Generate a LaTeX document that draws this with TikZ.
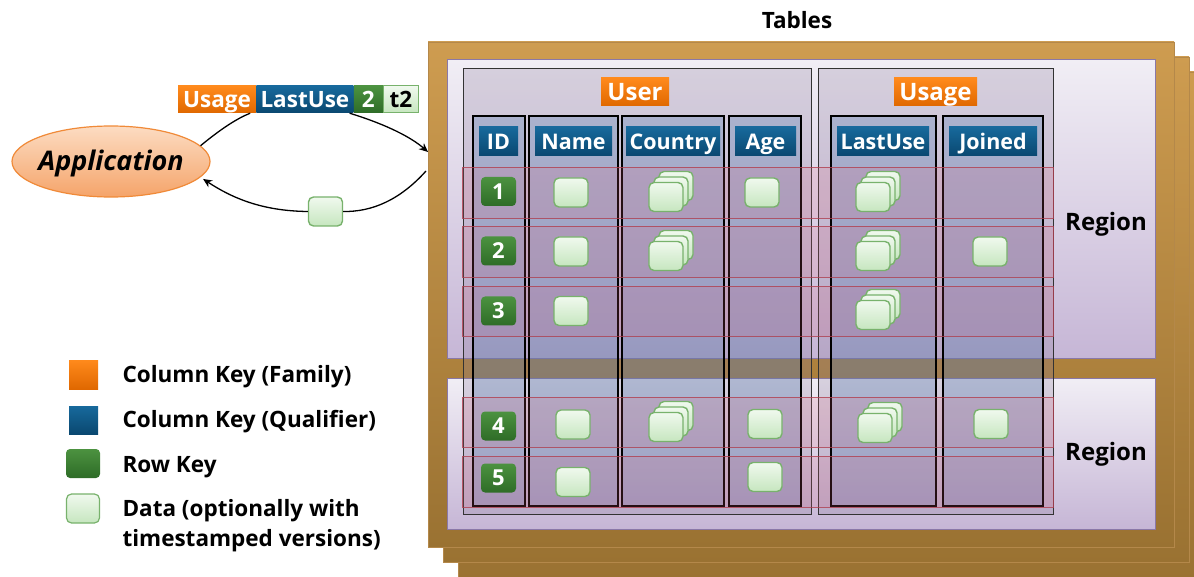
\documentclass[tikz,border=0pt]{standalone}
\usepackage{fontspec}
\setmainfont{Open Sans}
\usetikzlibrary{shapes.geometric,arrows.meta}

\definecolor{famtop}{HTML}{FF8A1C}
\definecolor{fambot}{HTML}{E06800}
\definecolor{qualtop}{HTML}{17699C}
\definecolor{qualbot}{HTML}{0A4870}
\definecolor{rowtop}{HTML}{4C9240}
\definecolor{rowbot}{HTML}{2E6C27}
\definecolor{celltop}{HTML}{F0F9EE}
\definecolor{cellbot}{HTML}{C6E6BF}
\definecolor{celledge}{HTML}{78B26C}
\definecolor{apptop}{HTML}{FCDCC2}
\definecolor{appbot}{HTML}{F5A46A}
\definecolor{appedge}{HTML}{F08A38}
\definecolor{browntop}{HTML}{CE9C50}
\definecolor{brownbot}{HTML}{9A7232}
\definecolor{brownedge}{HTML}{B4884A}
\definecolor{regtop}{HTML}{F1EEF5}
\definecolor{regbot}{HTML}{C6B6D6}
\definecolor{regedge}{HTML}{8A78A8}
\definecolor{famfill}{HTML}{8A7A9A}
\definecolor{colfill}{HTML}{4A78B0}
\definecolor{bandfill}{HTML}{E8607A}
\definecolor{bandedge}{HTML}{B04050}

\tikzset{
  fontsize/.style={font=\bfseries\fontsize{#1}{#1}\selectfont},
  capbox/.style={text height=#1, text depth=0pt},
  famkey/.style={rectangle, inner sep=0pt, minimum height=28pt, text=white,
    fontsize=24, capbox=17pt, top color=famtop, bottom color=fambot},
  qualkey/.style={rectangle, inner sep=0pt, minimum height=29pt, text=white,
    fontsize=21.5, capbox=15.4pt, top color=qualtop, bottom color=qualbot},
  rowkey/.style={rectangle, rounded corners=4pt, inner sep=0pt, minimum width=35pt,
    minimum height=29pt, text=white, fontsize=22, capbox=15.6pt, top color=rowtop, bottom color=rowbot},
  cell/.style={rectangle, rounded corners=5pt, inner sep=0pt, minimum width=34pt,
    minimum height=29pt, draw=celledge, line width=1.4pt, top color=celltop,
    bottom color=cellbot},
  barkey/.style={fontsize=22.5, capbox=16pt, minimum height=27pt},
  brownbox/.style={top color=browntop, bottom color=brownbot, draw=brownedge, line width=0.8pt},
  regionbox/.style={top color=regtop, bottom color=regbot, draw=regedge, line width=1pt},
  fambox/.style={fill=famfill, fill opacity=0.25, draw=black!80, line width=1pt},
  colbox/.style={fill=colfill, fill opacity=0.28, draw=black, line width=1.1pt},
  band/.style={fill=bandfill, fill opacity=0.16, draw=bandedge, draw opacity=0.8, line width=0.8pt},
  conn/.style={black, line width=1.3pt},
  legtext/.style={anchor=west, fontsize=22.5},
  stack/.pic={
    \node[cell] (-back) at (10,-11) {};
    \node[cell] (-mid) at (5,-5.5) {};
    \node[cell] (-front) at (0,0) {};
  }
}

\begin{document}
\begin{tikzpicture}[x=1pt,y=-1pt]
\useasboundingbox (0,0) rectangle (1194,577);

% table title
\node[fontsize=22.5] (title) at (797,20) {Tables};

% stacked tables
\path[brownbox] (458,72) rectangle (1206,579);
\path[brownbox] (443,57) rectangle (1189,562);
\path[brownbox] (428,42) rectangle (1174,547);

% regions
\path[regionbox] (447,60) rectangle (1155,358);
\path[regionbox] (447,378) rectangle (1155,529);
\node[fontsize=24, capbox=17pt] (reg1) at (1106,222) {Region};
\node[fontsize=24, capbox=17pt] (reg2) at (1106,452) {Region};

% column families
\path[fambox] (463,69) rectangle (811,514);
\path[fambox] (818,69) rectangle (1053,514);

% columns
\path[colbox] (473,116) rectangle (525,506);
\path[colbox] (529,116) rectangle (618,506);
\path[colbox] (622,116) rectangle (724,506);
\path[colbox] (729,116) rectangle (801,506);
\path[colbox] (831,116) rectangle (936,506);
\path[colbox] (943,116) rectangle (1043,506);

% rows
\path[band] (462,167) rectangle (1053,218);
\path[band] (462,226) rectangle (1053,277);
\path[band] (462,286) rectangle (1053,336);
\path[band] (462,397) rectangle (1053,447);
\path[band] (462,456) rectangle (1053,507);

% family labels
\node[famkey, minimum width=68pt] (fuser) at (635,92) {User};
\node[famkey, minimum width=83pt] (fusage) at (935.5,92) {Usage};

% qualifier labels
\node[qualkey, minimum width=39pt] (qid) at (498.5,141.5) {ID};
\node[qualkey, minimum width=77pt] (qname) at (573.5,141.5) {Name};
\node[qualkey, minimum width=94pt] (qcountry) at (673,141.5) {Country};
\node[qualkey, minimum width=61pt] (qage) at (765.5,141.5) {Age};
\node[qualkey, minimum width=92pt] (qlast) at (883,141.5) {LastUse};
\node[qualkey, minimum width=88pt] (qjoined) at (993,141.5) {Joined};

% row keys
\node[rowkey] (k1) at (498.5,191.5) {1};
\node[rowkey] (k2) at (498.5,251) {2};
\node[rowkey] (k3) at (498.5,311) {3};
\node[rowkey] (k4) at (498.5,426) {4};
\node[rowkey] (k5) at (498.5,478) {5};

% row 1
\node[cell] (r1name) at (571,192.5) {};
\pic (r1country) at (666,197) {stack};
\node[cell] (r1age) at (762,192.5) {};
\pic (r1last) at (873,197) {stack};
% row 2
\node[cell] (r2name) at (571,251.5) {};
\pic (r2country) at (666,256) {stack};
\pic (r2last) at (873,256) {stack};
\node[cell] (r2joined) at (990,251.5) {};
% row 3
\node[cell] (r3name) at (571,311) {};
\pic (r3last) at (873,315) {stack};
% row 4
\node[cell] (r4name) at (573,424.5) {};
\pic (r4country) at (666,427) {stack};
\node[cell] (r4age) at (765,424) {};
\pic (r4last) at (875,428) {stack};
\node[cell] (r4joined) at (991,424) {};
% row 5
\node[cell] (r5name) at (573,482) {};
\node[cell] (r5age) at (765,477) {};

% application and request key
\node[ellipse, inner sep=0pt, minimum width=198pt, minimum height=71pt, top color=apptop,
  bottom color=appbot, draw=appedge, line width=1.2pt,
  font=\bfseries\itshape\fontsize{27}{30}\selectfont, text height=19pt, text depth=0pt]
  (app) at (111,161.5) {\makebox[0pt]{Application}};

\node[famkey, barkey, minimum width=78pt] (kfam) at (217,99.5) {Usage};
\node[qualkey, barkey, minimum width=97pt, anchor=west] (kqual) at (kfam.east) {LastUse};
\node[rowkey, barkey, rounded corners=0pt, minimum width=29pt, anchor=west] (krow) at (kqual.east) {2};
\node[rectangle, inner sep=0pt, barkey, minimum width=35pt, anchor=west,
  top color=celltop, bottom color=cellbot, draw=celledge, line width=1pt] (kts) at (krow.east) {t2};

\coordinate (tin) at (428,152);
\coordinate (tout) at (426,171);
\node[cell] (ret) at (325.5,211.5) {};

\draw[conn] (app.10) .. controls (222,128) and (238,118) .. ([xshift=-6pt]kfam.south east);
\draw[conn, -{Stealth[length=9pt,width=8pt]}] ([xshift=-4pt]kqual.south east) .. controls (388,125) and (412,138) .. (tin);
\draw[conn] (tout) .. controls (400,200) and (372,212) .. (ret.east);
\draw[conn, -{Stealth[length=9pt,width=8pt]}, shorten >=3pt] (ret.west) .. controls (262,211) and (232,198) .. (app.-10);

% legend
\node[famkey, minimum width=29pt, minimum height=29pt] (lfam) at (83.5,374.5) {};
\node[qualkey, minimum width=29pt, minimum height=28pt] (lqual) at (83.5,420) {};
\node[rowkey, minimum width=34pt] (lrow) at (83,463.5) {};
\node[cell, minimum width=33pt, line width=1.2pt] (ldata) at (83,508.5) {};
\node[legtext] (tfam) at (119,377) {Column Key (Family)};
\node[legtext] (tqual) at (119,422) {Column Key (Qualifier)};
\node[legtext] (trow) at (119,467) {Row Key};
\node[legtext, align=left, font=\bfseries\fontsize{22.5}{30}\selectfont] (tdata) at (119,526) {Data (optionally with\\timestamped versions)};
\end{tikzpicture}
\end{document}
